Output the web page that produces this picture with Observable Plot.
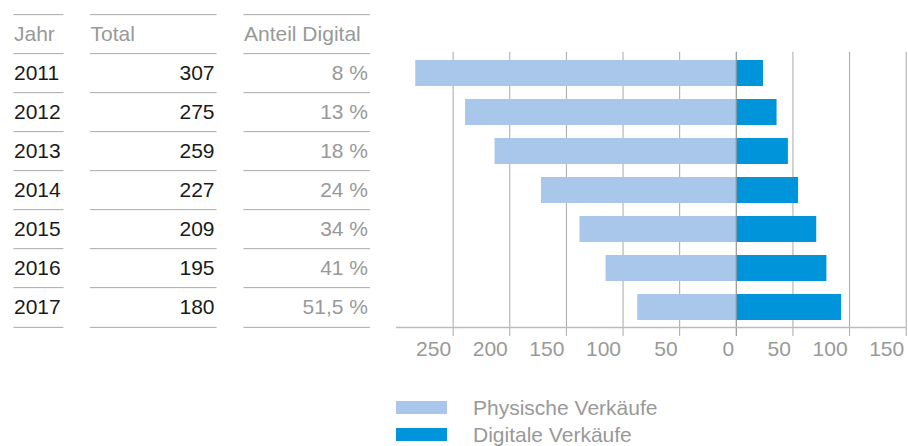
<!DOCTYPE html>
<html><head><meta charset="utf-8">
<script src="https://cdn.jsdelivr.net/npm/d3@7"></script>
<script src="https://cdn.jsdelivr.net/npm/@observablehq/plot@0.6"></script>
<style>
body{margin:0;background:#fff;font-family:"Liberation Sans",Arial,sans-serif;}
#legend{padding-left:396px;margin-top:14px;}
.row{display:flex;align-items:center;height:27px;}
.sw{width:51px;height:13px;margin-right:26px;}
.lab{font-size:21px;color:#999;}
</style></head><body><div id="chart"></div><div id="legend"></div>
<script>
const years = ["2011","2012","2013","2014","2015","2016","2017"];
const totals = [307,275,259,227,209,195,180];
const shares = ["8 %","13 %","18 %","24 %","34 %","41 %","51,5 %"];
const physical = [283,239,213,172,138,115,87];
const digital = [24,36,46,55,71,80,93];
const headers = ["Jahr","Total","Anteil Digital"];
const ticks = [-250,-200,-150,-100,-50,0,50,100,150];
const series = ["Physische Verkäufe","Digitale Verkäufe"];
const colors = ["#a9c7ea","#0095da"];

const W = 908, H = 380, yTop = 12, yBottom = 330;
const rowKeys = ["head", ...years];
const step = (yBottom - yTop) / rowKeys.length;
const rows = years.map((y, i) => ({year: y, total: String(totals[i]), share: shares[i], phys: -physical[i], dig: digital[i]}));

// table column spans (pixels)
const cols = [[13.5, 63.5], [90, 216.5], [243.5, 370]];
const lineStyle = {stroke: "#aaa", strokeWidth: 1};
const colRules = cols.flatMap(([a, b]) => [
  Plot.ruleY(rowKeys, {...lineStyle, dy: -step / 2, insetLeft: a, insetRight: W - b}),
  Plot.ruleY([years[years.length - 1]], {...lineStyle, dy: step / 2, insetLeft: a, insetRight: W - b})
]);

const chart = Plot.plot({
  width: W, height: H,
  marginTop: yTop, marginBottom: H - yBottom, marginLeft: 0, marginRight: 0,
  style: {fontFamily: '"Liberation Sans", Arial, sans-serif', fontSize: "21px", background: "#fff"},
  x: {domain: [-300, 150], range: [396, 905.7], axis: null},
  y: {type: "band", domain: rowKeys, paddingInner: 0.33, paddingOuter: 0.165, axis: null},
  marks: [
    Plot.ruleX(ticks, {stroke: "#a8a8a8", strokeWidth: 1, insetTop: step, insetBottom: -6}),
    Plot.barX(rows, {y: "year", x: "phys", fill: colors[0]}),
    Plot.barX(rows, {y: "year", x: "dig", fill: colors[1]}),
    Plot.ruleX([0], {stroke: "#9a9a9a", strokeWidth: 1, insetTop: step, insetBottom: -6}),
    Plot.ruleY([years[years.length - 1]], {x1: -300, x2: 150, dy: step / 2, stroke: "#bbb", strokeWidth: 1.5}),
    Plot.axisX(ticks, {tickSize: 0, tickPadding: 11, textAnchor: "end", dx: -2, tickFormat: d => Math.abs(d), fill: "#999", fontSize: 21}),
    ...colRules,
    // headers
    Plot.text([rowKeys[0]], {y: d => d, text: () => headers[0], frameAnchor: "left", textAnchor: "start", dx: 13.5, fill: "#999"}),
    Plot.text([rowKeys[0]], {y: d => d, text: () => headers[1], frameAnchor: "left", textAnchor: "start", dx: 90, fill: "#999"}),
    Plot.text([rowKeys[0]], {y: d => d, text: () => headers[2], frameAnchor: "left", textAnchor: "start", dx: 243.5, fill: "#999"}),
    // rows
    Plot.text(rows, {y: "year", text: "year", frameAnchor: "left", textAnchor: "start", dx: 13.5, fill: "#1a1a1a"}),
    Plot.text(rows, {y: "year", text: "total", frameAnchor: "left", textAnchor: "end", dx: 214, fill: "#1a1a1a"}),
    Plot.text(rows, {y: "year", text: "share", frameAnchor: "left", textAnchor: "end", dx: 367.5, fill: "#999"})
  ]
});
document.getElementById("chart").appendChild(chart);

const legend = document.getElementById("legend");
series.forEach((s, i) => {
  const r = document.createElement("div"); r.className = "row";
  const sw = document.createElement("div"); sw.className = "sw"; sw.style.background = colors[i];
  const lb = document.createElement("span"); lb.className = "lab"; lb.textContent = s;
  r.appendChild(sw); r.appendChild(lb); legend.appendChild(r);
});
</script></body></html>
